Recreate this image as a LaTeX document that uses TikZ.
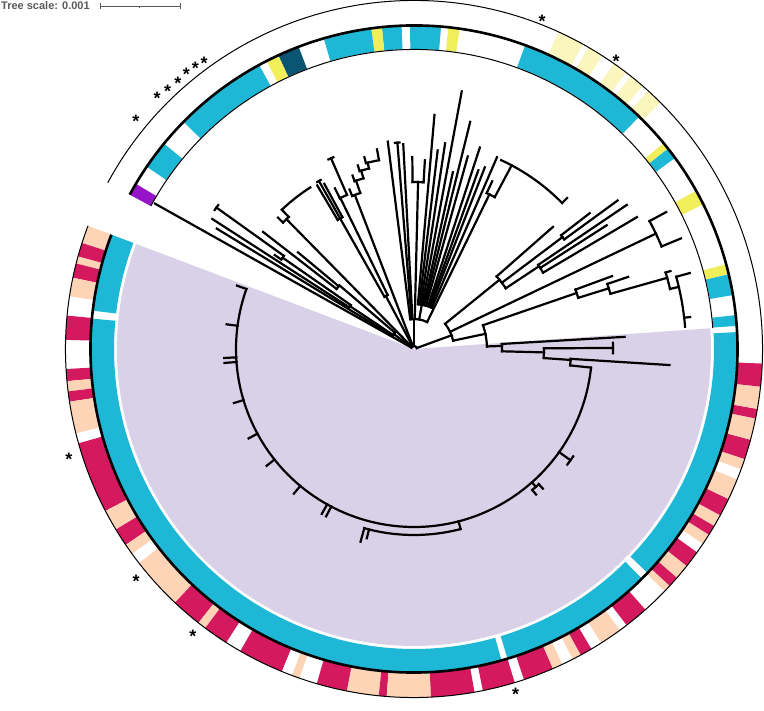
\documentclass[tikz,border=0pt]{standalone}
\usepackage{fontspec}
\setmainfont{Liberation Sans}

\definecolor{cladebg}{RGB}{216,209,232}
\definecolor{ringcyan}{RGB}{30,184,214}
\definecolor{ringyellow}{RGB}{240,238,90}
\definecolor{paleyellow}{RGB}{250,246,190}
\definecolor{ringteal}{RGB}{10,85,115}
\definecolor{ringpurple}{RGB}{150,20,200}
\definecolor{ringred}{RGB}{212,25,95}
\definecolor{peach}{RGB}{253,212,182}
\definecolor{scalegray}{RGB}{90,90,90}

\tikzset{
  branch/.style={line width=2.2pt, line cap=rect},
  ringline/.style={line width=2.6pt},
  thinline/.style={line width=1pt},
  starmark/.style={inner sep=0pt, yshift=-4.5pt, font=\fontsize{18}{18}\selectfont\bfseries},
  scaletext/.style={inner sep=0pt, text=scalegray, font=\fontsize{11}{13}\selectfont\bfseries},
  scalebar/.style={line width=0.9pt, draw=scalegray}
}

\begin{document}
\begin{tikzpicture}[x=1pt,y=1pt]
	\useasboundingbox (-414,-362) rectangle (350,349);
	\fill[white] (-414,-362) rectangle (350,349);
	
	% clade shading
	\fill[cladebg] (0,0) -- (159.3:297) arc[start angle=159.3, end angle=364, radius=297] -- cycle;
	
	% tree: radial branches
	\foreach \a/\p/\q in {
		150.7/3/297, 143.5/3/25, 134.5/3/182, 118/3/60, 111/3/165, 90/3/30, 20/3/40,
		148.6/25/231, 146.2/25/77, 139.5/25/98, 147.2/77/240, 145.2/77/160,
		146/160/168, 144.4/160/243, 142.2/98/191, 140.2/98/151,
		136/182/189, 133.5/182/192,
		119.5/60/150, 116/60/168, 120.6/150/190, 119.5/150/193, 118.5/150/188,
		116.2/168/179, 113.5/168/208,
		112/165/172, 109/165/178, 109.5/178/184, 106.5/178/186,
		107/186/192, 104/186/192, 104.5/192/198, 100.5/192/203,
		97.2/30/209, 94.6/30/207, 93/30/205, 88.6/30/167, 90.5/167/192, 86.7/167/189,
		80/30/45, 85/45/235, 83.2/45/200, 81.4/45/208, 79.5/45/262, 77.6/45/181,
		76.1/45/234, 74.4/45/200, 71.9/45/212, 70.2/45/190, 68.7/45/195, 66.6/45/209,
		64/30/172, 65/172/185, 62/172/208, 44.6/208/215,
		39/40/110, 41.3/110/185, 37/110/186, 37.7/186/222, 36.1/186/252,
		33.5/110/150, 34.1/150/257, 32.7/150/229, 30.6/150/259,
		25.5/40/268, 28.5/268/287, 22.5/268/289,
		12/40/73, 19/73/172, 20.2/172/211, 17.3/172/204, 18.6/204/226, 15.7/204/263,
		16.9/263/268, 13.2/263/272, 15.4/272/286, 6.6/272/278,
		2/73/88, 3.3/88/211, -1.5/88/130, 0.3/130/199, -4/130/157,
		-3.6/157/256, -6/157/178,
		160.3/178/188, 172.5/178/189, 182.7/178/190, 184.2/178/190, 196.7/178/188,
		208.4/178/188, 218.4/178/188, 230.3/178/188, 240.8/178/189, 242.3/178/189,
		284.5/178/186, 254.5/186/200, 256/186/195,
		-48.5/178/184, -47.3/184/190, -50/184/190, -35.4/178/192} \draw[branch] (\a:\p) -- (\a:\q);
	
	% tree: node arcs
	\foreach \r/\a/\b in {
		3/150.7/20, 25/148.6/139.5, 77/147.2/145.2, 160/146/144.4, 243/145.1/143.7,
		98/142.2/140.2, 182/136/133.5, 192/133.5/122.7,
		60/119.5/116, 150/120.6/118.5, 193/120.1/118.9, 168/116.2/113.5, 208/114.3/112.8,
		165/112/109, 178/109.5/106.5, 186/107/104, 192/104.5/100.5,
		30/97.2/64, 207/95.3/94, 167/90.5/86.7, 45/85/66.6,
		172/65/62, 208/65.2/44.6,
		40/39/12, 110/41.3/33.5, 186/37.7/36.1, 150/34.1/30.6, 268/28.5/22.5,
		73/19/2, 172/20.2/17.3, 204/18.6/15.7, 263/16.9/13.2, 272/15.4/4.7,
		88/3.3/-1.5, 130/0.3/-4, 199/1.8/-1.2, 157/-3.6/-6,
		178/-6/-199.7, 186/284.5/254.5, 184/-47.3/-50, 192/-34/-37} \draw[branch] (\a:\r) arc[start angle=\a, end angle=\b, radius=\r];
	
	% inner ring
	\foreach \a/\b/\c in {
		-200.7/-186.8/ringcyan, -185.4/-74.3/ringcyan, -73.2/-45.2/ringcyan, -43.8/3/ringcyan,
		4.1/6/ringcyan, 9.6/13.4/ringcyan, 13.4/15.2/ringyellow, 26.6/29.3/ringyellow,
		36.2/38.3/ringcyan, 38.3/39.5/ringyellow, 45.9/69.9/ringcyan, 81.9/83.9/ringyellow,
		85.2/90.7/ringcyan, 92.2/95.7/ringcyan, 95.7/97.6/ringyellow, 97.6/106.2/ringcyan,
		110.9/114.8/ringteal, 114.8/117.1/ringyellow, 118.6/135.4/ringcyan,
		140.6/145.7/ringcyan, 149.3/151.5/ringpurple} \fill[\c] (\a:300) arc[start angle=\a, end angle=\b, radius=300] -- (\b:323) arc[start angle=\b, end angle=\a, radius=323] -- cycle;
	
	% outer ring
	\foreach \a/\b/\c in {
		45/47.8/paleyellow, 49/51.5/paleyellow, 52.5/55/paleyellow, 57.3/60/paleyellow, 61/65.5/paleyellow,
		159.3/162.3/peach, 162.3/164.6/ringred, 164.6/165.8/peach, 165.8/168.2/ringred,
		168.2/171.3/peach, 174.5/178.5/ringred, 183.3/185.3/ringred, 185.3/187/peach,
		187/188.7/ringred, 188.7/194/peach, 195.7/207.7/ringred, 207.7/211.2/peach,
		211.2/214.2/ringred, 214.2/216/peach, 217.9/226.7/peach, 226.7/231.8/ringred,
		231.8/233.2/peach, 233.2/237.4/ringred, 240.1/247.7/ringred, 249.5/250.8/peach,
		253.8/258.9/ringred, 258.9/264.2/peach, 264.2/265.5/ringred, 265.5/272.8/peach,
		272.8/280/ringred, 281.4/286.8/ringred, 288.4/293.5/ringred, 293.5/295.2/peach,
		297.1/298.6/peach, 298.6/300.6/ringred, 302.5/306.2/peach, 307.6/311.6/ringred,
		316/317.2/peach, 317.2/319/ringred, 319/321.5/peach, 321.5/324.3/ringred,
		326/327.8/peach, 327.8/329.5/ringred, 329.5/331.5/peach, 331.5/334.5/ringred,
		334.5/338/peach, 339.8/341.6/peach, 341.6/344.9/ringred, 344.9/348.5/peach,
		348.5/350.1/ringred, 350.1/353.8/peach, 353.8/357.6/ringred} \fill[\c] (\a:324) arc[start angle=\a, end angle=\b, radius=324] -- (\b:348.5) arc[start angle=\b, end angle=\a, radius=348.5] -- cycle;
	
	% ring outlines
	\draw[thinline] (151.5:299.5) arc[start angle=151.5, end angle=4, radius=299.5];
	\draw[ringline] (151.5:323.5) arc[start angle=151.5, end angle=-200.7, radius=323.5];
	\draw[thinline] (151.5:348.5) arc[start angle=151.5, end angle=-200.7, radius=348.5];
	
	% stars
	\foreach \a/\r [count=\i] in {
		140.2/362, 135.2/362, 133.2/360, 131.1/359, 129.2/360, 127.5/359, 125.9/358,
		68.9/356, 55.3/355, 197.1/361, 219.4/359.5, 232/359, -73.4/356} \node[starmark] (star\i) at (\a:\r) {*};
	
	% tree scale
	\node[scaletext, anchor=base west] (scalelabel) at (-413,339) {Tree scale: 0.001};
	\coordinate (barL) at (-314,343);
	\coordinate (barM) at (-274.7,343);
	\coordinate (barR) at (-234,343);
	\draw[scalebar] (barL) -- (barR);
	\draw[scalebar] ([yshift=3pt]barL) -- ([yshift=-3pt]barL);
	\draw[scalebar] ([yshift=3pt]barR) -- ([yshift=-3pt]barR);
	\draw[scalebar] (barM) -- ([yshift=-2pt]barM);
	
\end{tikzpicture}
\end{document}
